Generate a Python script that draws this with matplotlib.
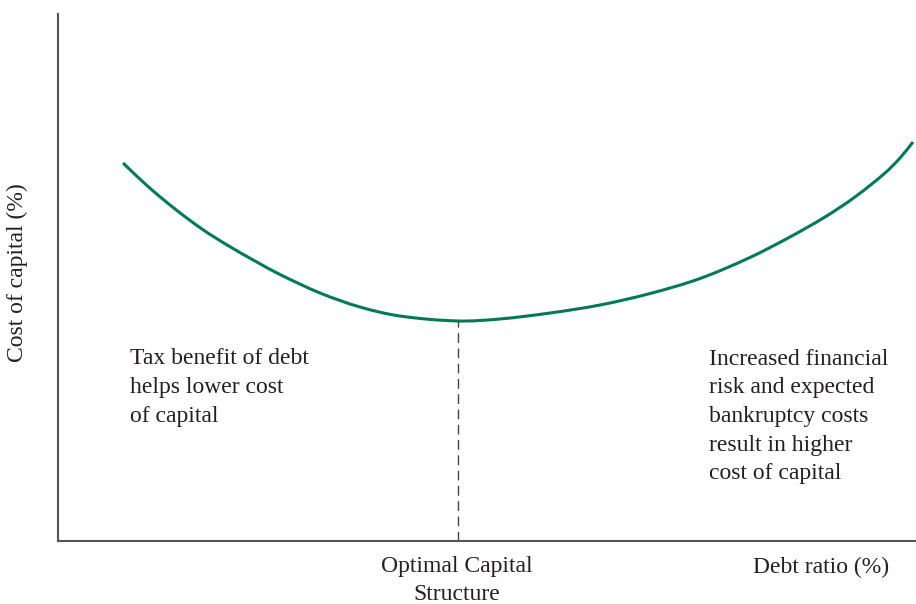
import matplotlib
matplotlib.use("Agg")
import matplotlib.pyplot as plt
from matplotlib.path import Path
from matplotlib.patches import PathPatch

# Debt ratio (% of axis) and cost of capital (% of axis)
debt_ratio = [7.58, 10.49, 13.64, 16.78, 19.81, 22.96, 25.87, 30.54, 35.20, 39.86,
              46.62, 51.52, 57.34, 63.17, 69.00, 74.83, 80.65, 85.31, 89.39, 92.89,
              96.39, 98.14, 99.65]
cost_of_capital = [71.73, 67.27, 63.00, 59.20, 56.07, 53.13, 50.57, 47.06, 44.40, 42.69,
                   41.75, 42.13, 43.26, 44.78, 46.96, 49.81, 53.80, 57.69, 61.48, 65.28,
                   69.83, 72.68, 75.71]
optimal_x = 46.62
optimal_y = 41.75

left_note = "Tax benefit of debt\nhelps lower cost\nof capital"
right_note = "Increased financial\nrisk and expected\nbankruptcy costs\nresult in higher\ncost of capital"
x_label = "Debt ratio (%)"
y_label = "Cost of capital (%)"
optimal_label = "Optimal Capital\nStructure"

plt.rcParams['font.family'] = ['Liberation Serif', 'DejaVu Serif']

W, H = 916, 604
fig = plt.figure(figsize=(W/100, H/100), dpi=100)
ax = fig.add_axes([58/W, (H-541)/H, 858/W, (541-14)/H])
ax.set_xlim(0, 100)
ax.set_ylim(0, 100)

# Smooth curve through the read points (cubic Hermite drawn as Bezier segments)
xs, ys = debt_ratio, cost_of_capital
n = len(xs)
slopes = []
for i in range(n):
    a = max(i - 1, 0)
    b = min(i + 1, n - 1)
    slopes.append((ys[b] - ys[a]) / (xs[b] - xs[a]))
verts = [(xs[0], ys[0])]
codes = [Path.MOVETO]
for i in range(n - 1):
    dx = (xs[i + 1] - xs[i]) / 3.0
    verts += [(xs[i] + dx, ys[i] + slopes[i] * dx),
              (xs[i + 1] - dx, ys[i + 1] - slopes[i + 1] * dx),
              (xs[i + 1], ys[i + 1])]
    codes += [Path.CURVE4] * 3
ax.add_patch(PathPatch(Path(verts, codes), facecolor='none', edgecolor='#007a55',
                       lw=2.2, capstyle='butt'))

ax.plot([optimal_x, optimal_x], [0, optimal_y], color='#444444', lw=1.0,
        linestyle=(0, (7, 4)))

for s in ['top', 'right']:
    ax.spines[s].set_visible(False)
for s in ['left', 'bottom']:
    ax.spines[s].set_color('#555555')
    ax.spines[s].set_linewidth(1.5)
ax.set_xticks([])
ax.set_yticks([])

fs = 17

def px_text(x, y, s, ha='left', va='center', **kw):
    fig.text(x/W, 1 - y/H, s, ha=ha, va=va, fontsize=fs, color='#231f20', **kw)

px_text(130, 387.5, left_note, linespacing=1.48)
px_text(709, 416.5, right_note, linespacing=1.48)
px_text(457, 580.5, optimal_label, ha='center', linespacing=1.48, multialignment='center')
px_text(889, 567, x_label, ha='right')
px_text(17, 273, y_label, ha='center', rotation=90)

fig.savefig("out.png", dpi=100)
